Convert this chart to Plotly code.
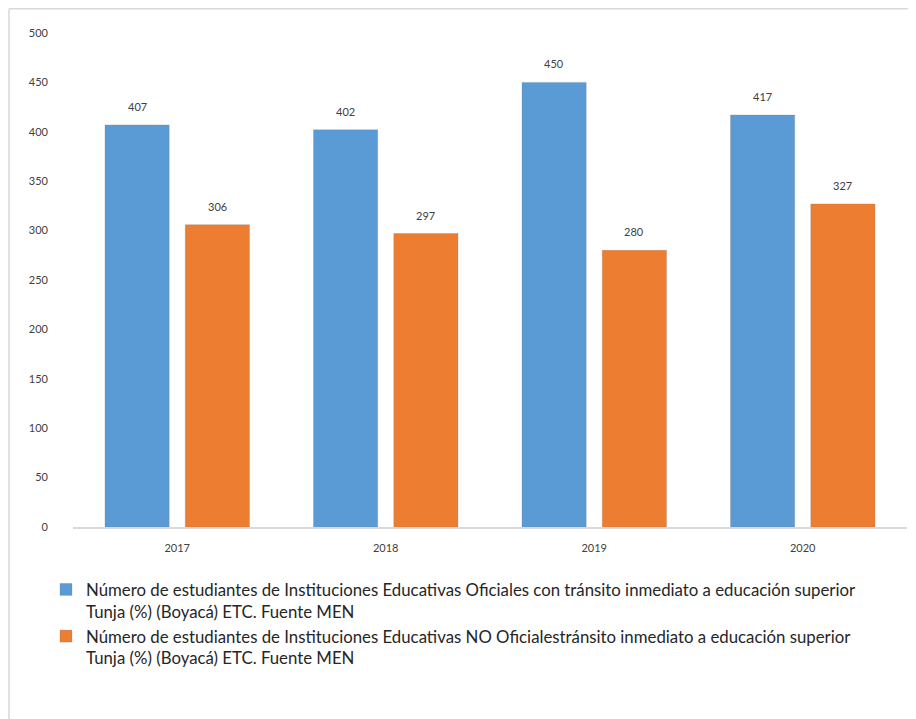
import plotly.graph_objects as go

years = ["2017", "2018", "2019", "2020"]
oficiales = [407, 402, 450, 417]
no_oficiales = [306, 297, 280, 327]

name_oficiales = ("Número de estudiantes de Instituciones Educativas Oficiales con tránsito inmediato a educación superior"
                  "<br>Tunja (%) (Boyacá) ETC. Fuente MEN")
name_no_oficiales = ("Número de estudiantes de Instituciones Educativas NO Oficialestránsito inmediato a educación superior"
                     "<br>Tunja (%) (Boyacá) ETC. Fuente MEN")

# page body has an 8px margin, so the figure is sized to the visible area
W, H = 908, 711
ml, mr, mt, mb = 65, 9, 25, 192
pw, ph = W - ml - mr, H - mt - mb
bargap, bargroupgap = 0.23, 0.2
slot_px = pw / len(years) * (1 - bargap) / 2

def px_x(p):
    return (p - ml) / pw

def px_y(p):
    return (H - mb - p) / ph

fig = go.Figure()
fig.add_trace(go.Bar(
    x=years, y=oficiales, name=name_oficiales,
    marker=dict(color="#5b9bd5", line=dict(color="rgba(120,120,120,0.25)", width=1)),
))
fig.add_trace(go.Bar(
    x=years, y=no_oficiales, name=name_no_oficiales,
    marker=dict(color="#ed7d31", line=dict(color="rgba(120,120,120,0.25)", width=1)),
))

annotations = []
for series, shift in ((oficiales, -slot_px / 2), (no_oficiales, slot_px / 2)):
    for i, v in enumerate(series):
        annotations.append(dict(
            x=i, y=v, xref="x", yref="y", text=str(v), showarrow=False,
            xshift=shift, yshift=10, yanchor="bottom",
            font=dict(size=11, color="#404040", family="Lato"),
        ))

fig.update_layout(
    width=W, height=H,
    margin=dict(l=ml, r=mr, t=mt, b=mb),
    paper_bgcolor="white", plot_bgcolor="white",
    barmode="group", bargap=bargap, bargroupgap=bargroupgap,
    font=dict(family="Lato", color="#404040"),
    showlegend=True,
    legend=dict(
        x=px_x(38), y=px_y(564), xanchor="left", yanchor="top",
        font=dict(size=16.8, color="#262626", family="Lato"),
        valign="top", itemwidth=30,
        bgcolor="rgba(0,0,0,0)",
    ),
    xaxis=dict(
        type="category", categoryorder="array", categoryarray=years,
        range=[-0.5, len(years) - 0.5], autorange=False,
        showline=True, linecolor="#d9d9d9", linewidth=1.5,
        showgrid=False, ticks="", tickfont=dict(size=11, color="#404040"),
        ticklabelstandoff=10,
    ),
    yaxis=dict(
        range=[0, 500], tickvals=[0, 50, 100, 150, 200, 250, 300, 350, 400, 450, 500],
        showgrid=False, showline=False, zeroline=False, ticks="",
        tickfont=dict(size=11, color="#404040"), ticklabelstandoff=24,
    ),
    annotations=annotations,
    shapes=[
        dict(type="line", xref="paper", yref="paper",
             x0=px_x(1), x1=px_x(W + 5), y0=px_y(0.75), y1=px_y(0.75),
             line=dict(color="#d9d9d9", width=1.5)),
        dict(type="line", xref="paper", yref="paper",
             x0=px_x(1), x1=px_x(1), y0=px_y(0.75), y1=px_y(H + 5),
             line=dict(color="#d9d9d9", width=1.5)),
    ],
)

fig.write_html("out.html")
